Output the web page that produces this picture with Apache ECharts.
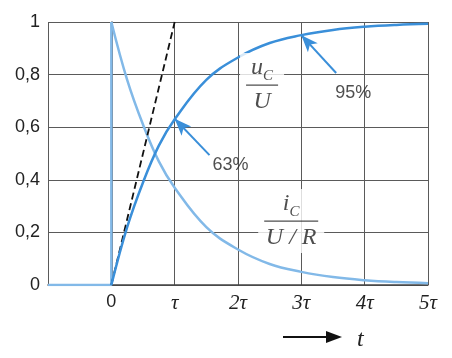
<!DOCTYPE html>
<html><head><meta charset="utf-8">
<script src="https://cdn.jsdelivr.net/npm/echarts@6/dist/echarts.min.js"></script>
<style>html,body{margin:0;padding:0;background:#fff}#c{width:452px;height:358px}</style>
</head><body><div id="c"></div>
<script>
// axis ticks and labels
const tTicks = [-1, 0, 1, 2, 3, 4, 5];
const tLabels = ['', '0', 'τ', '2τ', '3τ', '4τ', '5τ'];
const yTicks = [0, 0.2, 0.4, 0.6, 0.8, 1];
const yLabels = ['0', '0,2', '0,4', '0,6', '0,8', '1'];

// sample times (in units of tau)
const tSamples = [0, 0.25, 0.5, 0.75, 1, 1.5, 2, 2.5, 3, 3.5, 4, 4.5, 5];
// capacitor voltage u_C/U
const uC = [0, 0.22, 0.39, 0.53, 0.63, 0.78, 0.865, 0.92, 0.95, 0.97, 0.982, 0.989, 0.993];
// capacitor current i_C/(U/R)
const iC = [1, 0.78, 0.61, 0.47, 0.37, 0.22, 0.135, 0.08, 0.05, 0.03, 0.018, 0.011, 0.007];
// before switching and jump at t=0
const stepT = [-1, 0, 0];
const stepV = [0, 0, 1];
// tangent at t=0
const tangentT = [0, 1];
const tangentV = [0, 1];

const cU = '#3a8fd9';
const cI = '#82b9e8';

const zip = (a, b) => a.map((x, i) => [x, b[i]]);

const chart = echarts.init(document.getElementById('c'), null, {renderer: 'canvas'});
const serif = '"Liberation Serif","DejaVu Serif",serif';
const sans = '"Liberation Sans",Arial,sans-serif';

const arrowEnd = (c) => ({coord: c, symbol: 'arrow', symbolSize: [10, 17], symbolOffset: [0, 0]});

chart.setOption({
  animation: false,
  grid: {left: 48, right: 24, top: 22, bottom: 73},
  xAxis: {
    type: 'value', min: -1, max: 5, interval: 1,
    axisLine: {onZero: false, lineStyle: {color: '#444', width: 1.5}},
    axisTick: {show: false},
    splitLine: {show: true, lineStyle: {color: '#5a5a5a', width: 1}},
    axisLabel: {
      margin: 8,
      formatter: v => {
        const s = tLabels[tTicks.indexOf(Math.round(v))] || '';
        if (s === '0') return '{n|0}';
        if (!s) return '';
        return '{t|' + s + '}';
      },
      rich: {
        n: {fontFamily: sans, fontSize: 18, color: '#222'},
        t: {fontFamily: serif, fontStyle: 'italic', fontSize: 21, color: '#222'}
      }
    }
  },
  yAxis: {
    type: 'value', min: 0, max: 1, interval: 0.2,
    axisLine: {show: true, lineStyle: {color: '#444', width: 1.5}},
    axisTick: {show: false},
    splitLine: {show: true, lineStyle: {color: '#5a5a5a', width: 1}},
    axisLabel: {
      margin: 8, fontFamily: sans, fontSize: 18, color: '#222',
      formatter: v => yLabels[Math.round(v / 0.2)]
    }
  },
  series: [
    {
      type: 'line', data: zip(stepT, stepV), symbol: 'none', z: 3,
      lineStyle: {color: cI, width: 2.5}
    },
    {
      type: 'line', data: zip(tSamples, iC), symbol: 'none', smooth: 0.4, z: 3,
      lineStyle: {color: cI, width: 2.5}
    },
    {
      type: 'line', data: zip(tangentT, tangentV), symbol: 'none', z: 4,
      lineStyle: {color: '#111', width: 1.8, type: [7, 4]}
    },
    {
      type: 'line', data: zip(tSamples, uC), symbol: 'none', smooth: 0.4, z: 5,
      lineStyle: {color: cU, width: 2.5},
      markLine: {
        silent: true, symbol: ['none', 'arrow'], symbolSize: [10, 17],
        lineStyle: {color: cU, width: 2, type: 'solid'},
        label: {show: false},
        data: [
          [{coord: [1.55, 0.494], symbol: 'none'}, arrowEnd([1, 0.632])],
          [{coord: [3.55, 0.806], symbol: 'none'}, arrowEnd([3, 0.95])]
        ]
      }
    },
    {
      type: 'scatter', symbolSize: 0, z: 6, silent: true,
      label: {show: true, position: 'inside', color: '#222'},
      data: [
        {value: [1.88, 0.456], label: {formatter: '63%', fontFamily: sans, fontSize: 18}},
        {value: [3.82, 0.73], label: {formatter: '95%', fontFamily: sans, fontSize: 18}},
        {value: [2.38, 0.76], label: {
          formatter: '{v|u}{s|C}\n{bar|}\n{v|U}',
          backgroundColor: '#fff', padding: [0, 6, 0, 6], align: 'center',
          rich: {
            v: {fontFamily: serif, fontStyle: 'italic', fontSize: 24, color: '#222', lineHeight: 30, align: 'center'},
            s: {fontFamily: serif, fontStyle: 'italic', fontSize: 15, color: '#222', lineHeight: 30, verticalAlign: 'bottom', padding: [8, 0, 0, 0]},
            bar: {width: 32, height: 1.4, backgroundColor: '#222', lineHeight: 4, align: 'center'}
          }
        }},
        {value: [2.84, 0.243], label: {
          formatter: '{v|i}{s|C}\n{bar|}\n{v|U / R}',
          backgroundColor: '#fff', padding: [0, 6, 0, 6], align: 'center',
          rich: {
            v: {fontFamily: serif, fontStyle: 'italic', fontSize: 24, color: '#222', lineHeight: 30, align: 'center'},
            s: {fontFamily: serif, fontStyle: 'italic', fontSize: 15, color: '#222', lineHeight: 30, verticalAlign: 'bottom', padding: [8, 0, 0, 0]},
            bar: {width: 54, height: 1.4, backgroundColor: '#222', lineHeight: 4, align: 'center'}
          }
        }}
      ]
    }
  ],
  graphic: [
    {type: 'line', shape: {x1: 283, y1: 337, x2: 330, y2: 337}, style: {stroke: '#111', lineWidth: 1.8}},
    {type: 'polygon', shape: {points: [[326, 331], [342, 337], [326, 343]]}, style: {fill: '#111'}},
    {type: 'text', left: 357, top: 328, style: {text: 't', font: 'italic 24px ' + serif, fill: '#222'}}
  ]
});
</script>
</body></html>
